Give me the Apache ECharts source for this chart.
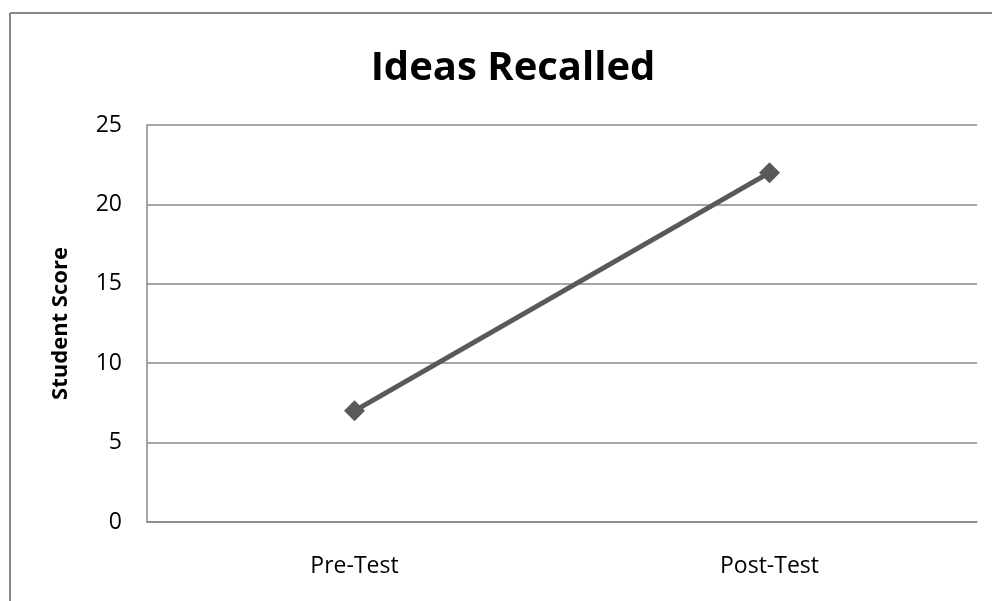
<!DOCTYPE html>
<html>
	<head>
		<meta charset="UTF-8">
		<title>Ideas Recalled</title>
		<style>
			html, body { margin: 0; padding: 0; background: #fff; }
			#main { width: 992px; height: 601px; }
		</style>
	</head>
	<script src="https://cdn.jsdelivr.net/npm/echarts@6/dist/echarts.min.js"></script>
	<body>
		<div id="main"></div>
	</body>
	<script>
		// 图表数据
		var categories = ['Pre-Test', 'Post-Test']
		var scores = [7, 22]
		var yTicks = [0, 5, 10, 15, 20, 25]

		var myChart = echarts.init(document.getElementById('main'))

		var font = '"Open Sans", "Liberation Sans", sans-serif'

		var option = {
			animation: false,
			title: {
				text: 'Ideas Recalled',
				left: 508,
				top: 44,
				textAlign: 'center',
				textStyle: { fontFamily: font, fontSize: 40, fontWeight: 'bold', color: '#000' }
			},
			grid: { left: 147, right: 15, top: 125, bottom: 79 },
			// 外框（只有上边和左边可见）
			graphic: [
				{ type: 'line', shape: { x1: 10, y1: 13, x2: 992, y2: 13 }, style: { stroke: '#888', lineWidth: 2 } },
				{ type: 'line', shape: { x1: 10, y1: 13, x2: 10, y2: 601 }, style: { stroke: '#888', lineWidth: 2 } }
			],
			xAxis: {
				type: 'category',
				data: categories,
				boundaryGap: true,
				axisLine: { lineStyle: { color: '#888', width: 1.5 } },
				axisTick: { show: false },
				axisLabel: { margin: 33, fontFamily: font, fontSize: 23, color: '#000' }
			},
			yAxis: {
				type: 'value',
				min: yTicks[0],
				max: yTicks[yTicks.length - 1],
				interval: 5,
				name: 'Student Score',
				nameLocation: 'middle',
				nameGap: 75,
				nameTextStyle: { fontFamily: font, fontSize: 22, fontWeight: 'bold', color: '#000' },
				axisLine: { show: true, lineStyle: { color: '#888', width: 1.5 } },
				axisTick: { show: false },
				splitLine: { lineStyle: { color: '#888', width: 1.5 } },
				axisLabel: { margin: 25, fontFamily: font, fontSize: 23, color: '#000' }
			},
			series: [{
				type: 'line',
				data: scores,
				symbol: 'diamond',
				symbolSize: 21,
				lineStyle: { color: '#595959', width: 5 },
				itemStyle: { color: '#595959' }
			}]
		}

		myChart.setOption(option)
	</script>
</html>
